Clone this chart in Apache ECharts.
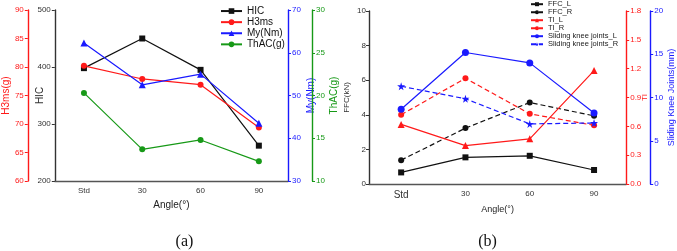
<!DOCTYPE html>
<html>
<head>
<meta charset="utf-8">
<script src="https://cdn.jsdelivr.net/npm/echarts@6/dist/echarts.min.js"></script>
<style>
html,body{margin:0;padding:0;background:#fff;}
#chart{width:677px;height:251px;}
</style>
</head>
<body>
<div id="chart"></div>
<script>
// ---------- data
var categories = ['Std', '30', '60', '90'];
// panel (a)
var hic  = [398, 450, 395, 262];
var h3ms = [80.2, 77.9, 76.9, 69.4];
var my   = [62.3, 52.5, 55.0, 43.5];
var thac = [20.3, 13.7, 14.8, 12.3];
// panel (b)
var ffcL = [0.67, 1.54, 1.63, 0.81];
var ffcR = [1.38, 3.23, 4.71, 3.94];
var tiL  = [0.62, 0.40, 0.47, 1.18];
var tiR  = [0.72, 1.10, 0.73, 0.61];
var skL  = [8.65, 15.2, 14.0, 8.2];
var skR  = [11.3, 9.85, 6.95, 7.05];

var FONT = 'Liberation Sans';
var RED = '#ff1a1a', BLUE = '#1a1aff', GREEN = '#179917', BLACK = '#111';
var STAR = 'path://M50,0 L61,35 L98,35 L68,57 L79,91 L50,70 L21,91 L32,57 L2,35 L39,35 Z';

// ---------- helpers
function yAx(grid, pos, offset, min, max, step, color, name, gap, fmt) {
    return {
        type: 'value', gridIndex: grid, position: pos, offset: offset,
        min: min, max: max, interval: step,
        name: name, nameLocation: 'middle', nameGap: gap,
        nameTextStyle: { color: color, fontFamily: FONT, fontSize: 10 },
        axisLine: { show: true, lineStyle: { color: color, width: 1.4 } },
        axisTick: { show: true, length: 3, lineStyle: { color: color } },
        axisLabel: { color: color, fontFamily: FONT, fontSize: 8, margin: 4, formatter: fmt },
        splitLine: { show: false }
    };
}
function xAx(grid, gap, stdSize) {
    return {
        type: 'category', gridIndex: grid, boundaryGap: true,
        data: categories.map(function (c) {
            return c === 'Std' ? { value: c, textStyle: { fontSize: stdSize } } : c;
        }),
        name: 'Angle(°)', nameLocation: 'middle', nameGap: gap,
        nameTextStyle: { color: '#222', fontFamily: FONT, fontSize: grid ? 9 : 10 },
        axisLine: { lineStyle: { color: '#555', width: 1.4 } },
        axisTick: { alignWithLabel: true, length: 3, lineStyle: { color: '#555' } },
        axisLabel: { color: '#333', fontFamily: FONT, fontSize: 8, margin: 6 }
    };
}
function line(name, data, x, y, color, symbol, size, dashed) {
    return {
        name: name, type: 'line', data: data, xAxisIndex: x, yAxisIndex: y,
        symbol: symbol, symbolSize: size,
        itemStyle: { color: color },
        lineStyle: { color: color, width: 1.2, type: dashed ? [5, 3] : 'solid' }
    };
}

var option = {
    animation: false,
    textStyle: { fontFamily: FONT },
    grid: [
        { left: 49, right: 389, top: 10, bottom: 70 },
        { left: 369, right: 49, top: 11, bottom: 67 }
    ],
    legend: [
        {
            orient: 'vertical', left: 220, top: 5.5, padding: 0, itemGap: 0,
            itemWidth: 21, itemHeight: 7,
            textStyle: { fontSize: 10, lineHeight: 11.1, color: '#111', fontFamily: FONT },
            data: ['HIC', 'H3ms', 'My(Nm)', 'ThAC(g)']
        },
        {
            orient: 'vertical', left: 530, top: 0.2, padding: 0, itemGap: 0,
            itemWidth: 12, itemHeight: 5,
            textStyle: { fontSize: 7.5, lineHeight: 7.7, color: '#222', fontFamily: FONT },
            data: ['FFC_L', 'FFC_R', 'TI_L', 'TI_R', 'Sliding knee joints_L', 'Sliding knee joints_R']
        }
    ],
    xAxis: [xAx(0, 19, 8), xAx(1, 16.5, 10)],
    yAxis: [
        yAx(0, 'left', 0, 200, 500, 100, '#333', 'HIC', 10),
        yAx(0, 'left', 27, 60, 90, 5, RED, 'H3ms(g)', 11),
        yAx(0, 'right', 0, 30, 70, 10, BLUE, 'My(Nm)', 18),
        yAx(0, 'right', 24, 10, 30, 5, GREEN, 'ThAC(g)', 17),
        yAx(1, 'left', 0, 0, 10, 2, '#333', 'FFC(kN)', 18),
        yAx(1, 'right', 0, 0, 1.8, 0.3, RED, 'TI', 15, function (v) { return v.toFixed(1); }),
        yAx(1, 'right', 24, 0, 20, 5, BLUE, 'Sliding Knee Joints(mm)', 15)
    ],
    series: [
        line('HIC', hic, 0, 0, BLACK, 'rect', 6),
        line('H3ms', h3ms, 0, 1, RED, 'circle', 6),
        line('My(Nm)', my, 0, 2, BLUE, 'triangle', 7),
        line('ThAC(g)', thac, 0, 3, GREEN, 'circle', 6),
        line('FFC_L', ffcL, 1, 4, BLACK, 'rect', 6),
        line('FFC_R', ffcR, 1, 4, BLACK, 'circle', 6, true),
        line('TI_L', tiL, 1, 5, RED, 'triangle', 7),
        line('TI_R', tiR, 1, 5, RED, 'circle', 6, true),
        line('Sliding knee joints_L', skL, 1, 6, BLUE, 'circle', 7),
        line('Sliding knee joints_R', skR, 1, 6, BLUE, STAR, 8, true)
    ],
    graphic: [
        { type: 'text', x: 184.5, y: 242, style: { text: '(a)', fontFamily: 'Liberation Serif', fontSize: 16, fill: '#111', align: 'center', verticalAlign: 'middle' } },
        { type: 'text', x: 487.5, y: 242, style: { text: '(b)', fontFamily: 'Liberation Serif', fontSize: 16, fill: '#111', align: 'center', verticalAlign: 'middle' } }
    ]
};

// the two y-axis titles of panel (b) are smaller
option.yAxis[4].nameTextStyle.fontSize = 8;
option.yAxis[5].nameTextStyle.fontSize = 8;
option.yAxis[6].nameTextStyle.fontSize = 9;
option.yAxis[4].axisLabel.margin = 3;
// HIC and TI titles sit among the tick labels in the original
option.yAxis[0].nameMoveOverlap = false;
option.yAxis[5].nameMoveOverlap = false;

var chart = echarts.init(document.getElementById('chart'));
chart.setOption(option);
</script>
</body>
</html>
